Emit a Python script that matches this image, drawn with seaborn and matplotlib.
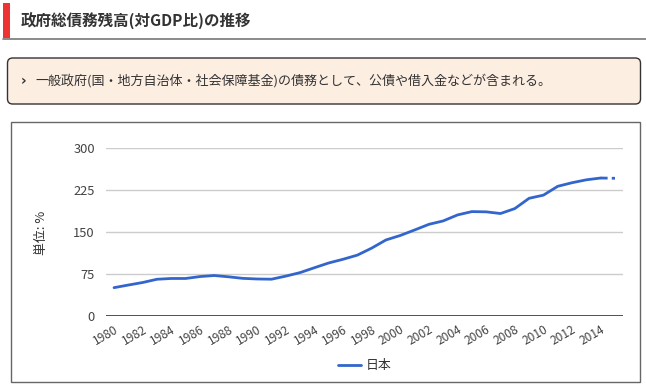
import matplotlib
matplotlib.use("Agg")
import matplotlib.pyplot as plt
from matplotlib.patches import Rectangle, FancyBboxPatch
from matplotlib.lines import Line2D
import seaborn as sns
import pandas as pd

years = list(range(1980, 2016))
debt = [50.6, 55.3, 59.8, 65.6, 67.0, 67.0, 70.4, 72.3, 70.0, 67.2,
        66.1, 65.7, 71.2, 77.5, 86.2, 94.7, 101.3, 108.7, 121.2, 135.8,
        143.8, 153.6, 163.7, 169.8, 180.5, 186.4, 186.0, 183.0, 191.8, 210.2,
        215.8, 231.6, 238.0, 243.2, 246.4, 245.9]
estimate_from = 2014
series_name = "日本"
y_ticks = [0, 75, 150, 225, 300]
x_ticks = list(range(1980, 2015, 2))
title = "政府総債務残高(対GDP比)の推移"
note = "一般政府(国・地方自治体・社会保障基金)の債務として、公債や借入金などが含まれる。"
y_label = "単位: %"

sns.set_theme(style="white")
plt.rcParams['font.family'] = ['Noto Sans CJK JP', 'DejaVu Sans']

W, H = 646, 386
fig = plt.figure(figsize=(W / 100, H / 100), dpi=100)
fig.patch.set_facecolor("white")

def px(x, y):
    return x / W, 1 - y / H

# Title bar
fig.patches.append(Rectangle(px(3, 38), 7 / W, 35 / H, transform=fig.transFigure,
                             facecolor="#ee3333", edgecolor="none"))
fig.lines.append(Line2D([3 / W, 1.0], [1 - 38.5 / H] * 2, transform=fig.transFigure,
                        color="#777777", lw=1.2))
fig.text(*px(21, 21), title, fontsize=11.2, fontweight="bold", color="#333333",
         va="center", ha="left")

# Note box
fig.patches.append(FancyBboxPatch(px(7.5, 104), 633 / W, 46 / H,
                                  boxstyle="round,pad=0,rounding_size=0.008",
                                  transform=fig.transFigure, facecolor="#fdeee2",
                                  edgecolor="#333333", lw=1.0, mutation_aspect=W / H))
fig.text(*px(21, 81), "›", fontsize=10, fontweight="bold", color="#333333",
         va="center", ha="left", family=['DejaVu Sans'])
fig.text(*px(35, 81), note, fontsize=9.4, color="#333333", va="center", ha="left")

# Chart frame
fig.patches.append(Rectangle(px(10.5, 381.5), 629 / W, 260 / H, transform=fig.transFigure,
                             facecolor="white", edgecolor="#666666", lw=1.0, zorder=-1))

# Axes
ax = fig.add_axes([106 / W, (H - 316) / H, (623 - 106) / W, (316 - 148) / H])
ax.set_zorder(5)
ax.set_facecolor("none")
df = pd.DataFrame({"year": years, "debt": debt})
solid = df[df["year"] <= estimate_from]
dashed = df[df["year"] >= estimate_from]
sns.lineplot(data=solid, x="year", y="debt", ax=ax, color="#3366cc", lw=2.0)
sns.lineplot(data=dashed, x="year", y="debt", ax=ax, color="#3366cc", lw=2.0,
             linestyle=(0, (2.5, 1.5)))
ax.set_xlim(1979.44, 2015.56)
ax.set_ylim(0, 300)
ax.set_yticks(y_ticks)
ax.set_yticklabels([str(v) for v in y_ticks], fontsize=9.3, color="#444444")
ax.set_xticks(x_ticks)
ax.set_xticklabels([str(v) for v in x_ticks], fontsize=8.6, color="#444444",
                   rotation=30, ha="right", rotation_mode="anchor")
ax.tick_params(axis="y", length=0, pad=8)
ax.tick_params(axis="x", length=0, pad=5)
for v in y_ticks[1:]:
    ax.axhline(v, color="#cccccc", lw=1.0, zorder=0)
ax.axhline(0, color="#333333", lw=1.2, zorder=1)
for s in ax.spines.values():
    s.set_visible(False)
ax.set_xlabel("")
ax.set_ylabel("")
ax.grid(False)

fig.text(*px(42, 233), y_label, fontsize=9.3, color="#333333", rotation=90,
         va="center", ha="center")

# Legend
fig.lines.append(Line2D([338 / W, 361 / W], [1 - 365 / H] * 2, transform=fig.transFigure,
                        color="#3366cc", lw=2.0))
fig.text(*px(366, 365), series_name, fontsize=9.3, color="#333333", va="center", ha="left")

fig.savefig("out.png", dpi=100)
